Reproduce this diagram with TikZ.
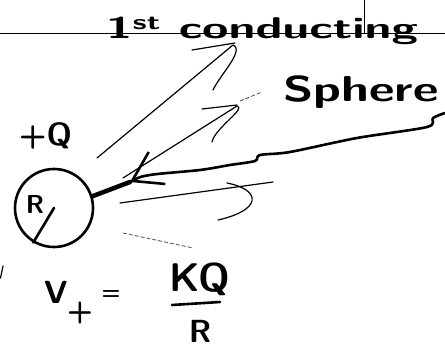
\documentclass[tikz,border=0pt]{standalone}
\usetikzlibrary{arrows.meta}
\tikzset{
  pen/.style={line width=2.6pt, line cap=round, line join=round},
  thinpen/.style={line width=1.2pt, line cap=round, line join=round},
  faint/.style={line width=0.8pt, dash pattern=on 4pt off 2pt, black!70},
  hand/.style={font=\sffamily\bfseries\fontsize{30}{30}\selectfont, inner sep=0pt}
}
\begin{document}
\begin{tikzpicture}[x=1pt,y=-1pt]
                \useasboundingbox (0,0) rectangle (445,350);
                % ruled paper
                \draw[line width=0.8pt] (0,33) -- (445,33);
                \draw[line width=0.8pt] (364,0) -- (364,33);
                % labels
                \node[hand, anchor=base west] (title) at (106,39) {\scalebox{1.6}[1]{1\textsuperscript{st} conducting}};
                \node[hand, font=\sffamily\bfseries\fontsize{36}{36}\selectfont, anchor=base west] (sphlab) at (283,102) {\scalebox{1.38}[1]{Sphere}};
                \node[hand, font=\sffamily\bfseries\fontsize{32}{32}\selectfont, anchor=base west] (charge) at (19,146) {+Q};
                % the sphere
                \node[circle, draw, pen, minimum size=78pt, inner sep=0pt] (ball) at (54,208) {};
                \node[hand, font=\sffamily\bfseries\fontsize{26}{26}\selectfont] (rlab) at (35,204) {R};
                \draw[pen] (ball.center) -- (ball.239);
                % arrow onto the surface
                \coordinate (tip) at (130,182);
                \draw[line width=4.5pt, line cap=round] (ball.17) -- (tip);
                \draw[pen, {Straight Barb[length=28pt,width=36pt]}-] plot[smooth] coordinates
                    {(tip) (150,175) (200,170) (230,165) (255,161) (260,155) (290,152) (357,138) (427,127) (433,118) (445,113)};
                % pointer strokes
                \draw[thinpen] (97,158) -- (233,45) .. controls (245,50) and (220,75) .. (213,90);
                \draw[thinpen] (192,50) -- (235,43);
                \draw[thinpen] (123,178) -- (237,106) .. controls (247,108) and (215,128) .. (212,142);
                \draw[thinpen] (202,109) -- (237,105);
                \draw[faint] (240,101) -- (262,92);
                \draw[thinpen] (120,203) -- (273,182);
                \draw[thinpen] (227,183) .. controls (262,190) and (262,210) .. (218,220);
                \draw[faint] (123,233) -- (193,248);
                \draw[thinpen] (0.5,278) -- (3,266);
                % potential at the surface
                \node[hand, font=\sffamily\bfseries\fontsize{32}{32}\selectfont, anchor=base west] (vsym) at (44,303) {V};
                \node[hand] (vsub) at (80,313) {+};
                \node[hand, font=\sffamily\bfseries\fontsize{22}{22}\selectfont] (eqsign) at (111,295) {=};
                \node[hand, font=\sffamily\bfseries\fontsize{40}{40}\selectfont, anchor=base] (num) at (200,291) {KQ};
                \node[hand, font=\sffamily\bfseries\fontsize{32}{32}\selectfont, anchor=base] (den) at (200,342) {R};
                \coordinate (barL) at (172,305);
                \coordinate (barR) at (220,302);
                \draw[pen] (barL) -- (barR);
\end{tikzpicture}
\end{document}
